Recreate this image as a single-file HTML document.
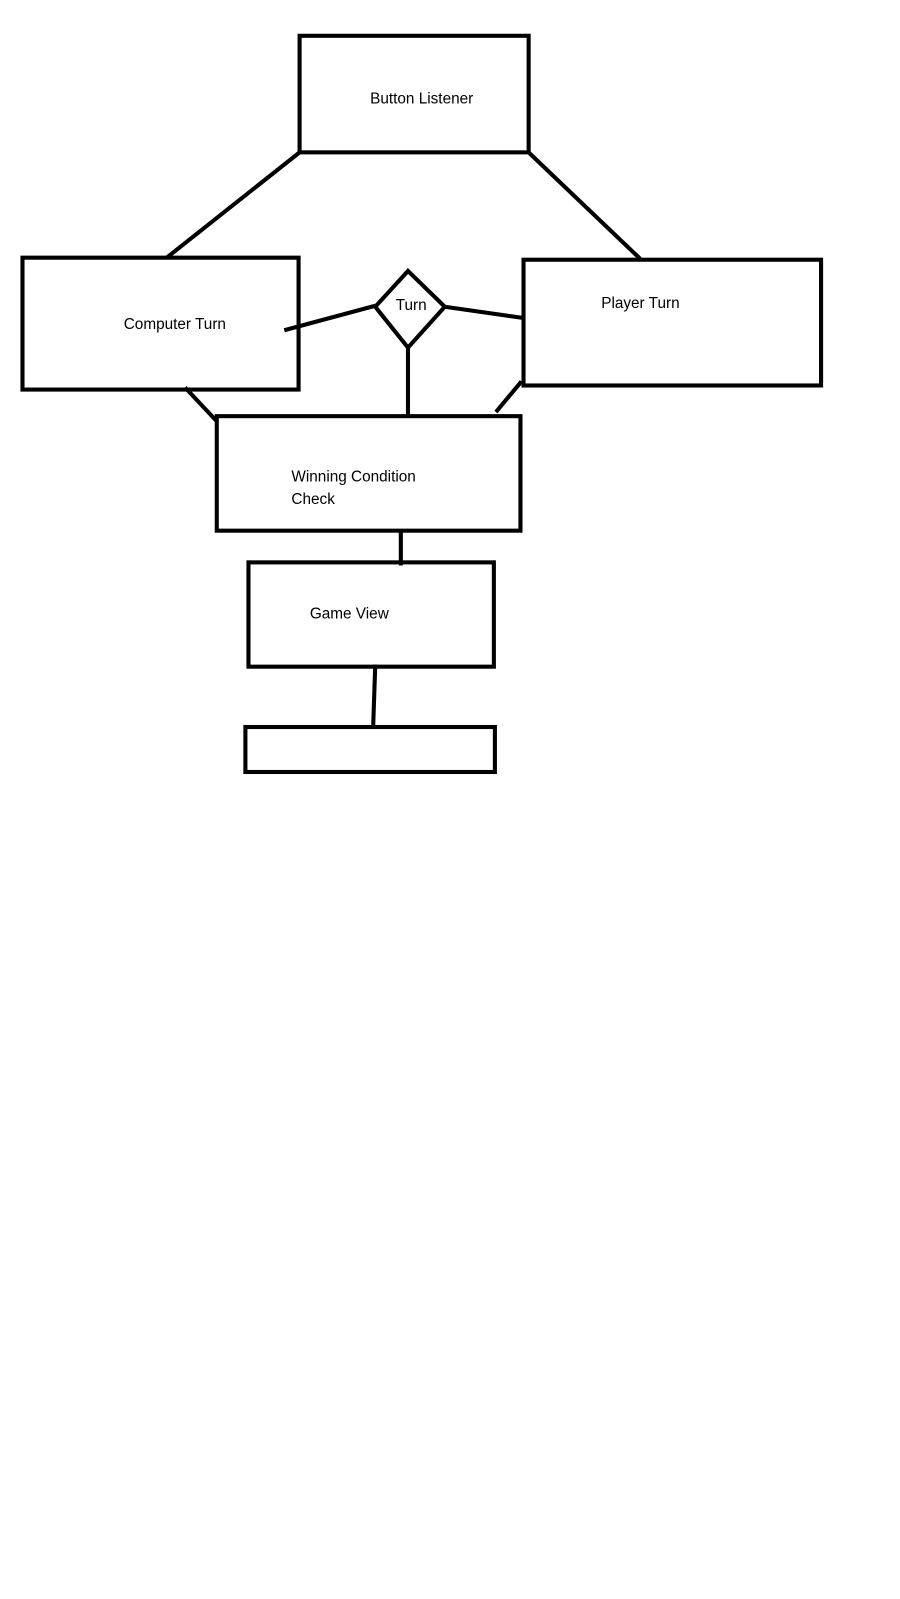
<!DOCTYPE html>
<html><head><meta charset="utf-8"><style>
html,body{margin:0;padding:0;background:#fff;}
svg{display:block}
text{font-family:"Liberation Sans",sans-serif;font-size:15px;fill:#000}
</style></head><body>
<svg width="900" height="1599" viewBox="0 0 900 1599" xmlns="http://www.w3.org/2000/svg">
<g transform="scale(1.0225)">
<g fill="none" stroke="#000" stroke-width="4">
<rect x="293" y="35" width="224" height="114"/>
<rect x="22" y="252" width="270" height="129"/>
<rect x="512" y="254" width="291" height="123"/>
<polygon points="399,265 435,300 399,340 367,300"/>
<rect x="212" y="407" width="297" height="112"/>
<rect x="243" y="550" width="240" height="102"/>
<rect x="240" y="711" width="244" height="44"/>
<line x1="293" y1="149" x2="163" y2="252"/>
<line x1="517" y1="149" x2="626" y2="253"/>
<line x1="278" y1="323" x2="367" y2="299"/>
<line x1="435" y1="300" x2="512" y2="311"/>
<line x1="399" y1="340" x2="399" y2="407"/>
<line x1="181" y1="379" x2="212" y2="412"/>
<line x1="510" y1="373" x2="485" y2="403"/>
<line x1="392" y1="519" x2="392" y2="553"/>
<line x1="367" y1="650" x2="365" y2="709"/>
</g>
<text x="362" y="101">Button Listener</text>
<text x="121" y="322">Computer Turn</text>
<text x="387" y="303">Turn</text>
<text x="588" y="301">Player Turn</text>
<text x="285" y="471">Winning Condition</text>
<text x="285" y="493">Check</text>
<text x="303" y="605">Game View</text>
</g>
</svg>
</body></html>
